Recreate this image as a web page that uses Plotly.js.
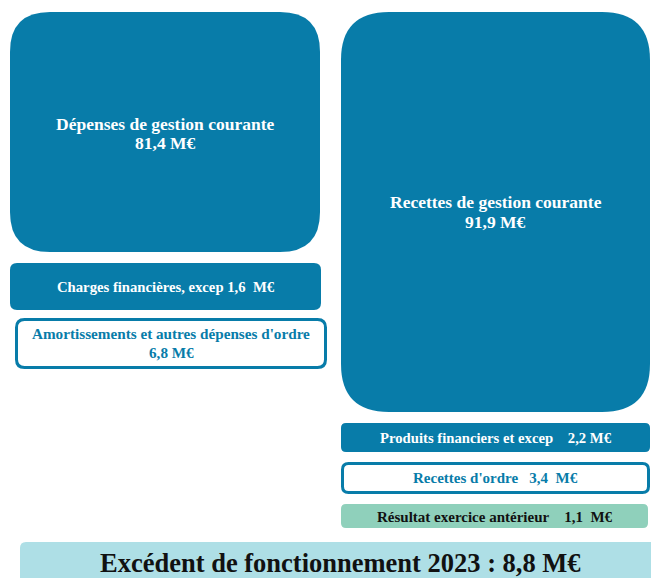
<!DOCTYPE html>
<html>
<head>
<meta charset="utf-8">
<script src="https://cdn.plot.ly/plotly-3.0.1.min.js"></script>
<style>html,body{margin:0;padding:0;background:#fff;}#chart{width:651px;height:578px;}</style>
</head>
<body>
<div id="chart"></div>
<script>
// ---- data ----
const depensesLabels = ["Dépenses de gestion courante", "Charges financières, excep", "Amortissements et autres dépenses d'ordre"];
const depensesValues = [81.4, 1.6, 6.8];
const recettesLabels = ["Recettes de gestion courante", "Produits financiers et excep", "Recettes d'ordre", "Résultat exercice antérieur"];
const recettesValues = [91.9, 2.2, 3.4, 1.1];
const excedentLabel = "Excédent de fonctionnement 2023";
const excedentValue = 8.8;

// ---- layout geometry (axis units = px of the canvas) ----
const BLUE = "#087ca9";
const fmt = v => v.toFixed(1).replace(".", ",");
const nb = n => "\u00a0".repeat(n);

const boxes = [
  {x0:10, y0:12, x1:320, y1:252, r:40, fill:BLUE, line:null, color:"#ffffff", size:17.5, cy:133.5, gap:19,
   lines: [depensesLabels[0], fmt(depensesValues[0]) + " M€"]},
  {x0:10, y0:263, x1:321, y1:310, r:7, fill:BLUE, line:null, color:"#ffffff", size:14.7, cy:287,
   lines: [depensesLabels[1] + " " + fmt(depensesValues[1]) + nb(2) + "M€"]},
  {x0:16.5, y0:319.5, x1:325.5, y1:367.5, r:8, fill:"#ffffff", line:BLUE, color:BLUE, size:15.2, cy:342.5, gap:19,
   lines: [depensesLabels[2], fmt(depensesValues[2]) + " M€"]},
  {x0:341, y0:12, x1:650, y1:412, r:48, fill:BLUE, line:null, color:"#ffffff", size:17.5, cy:212, gap:20,
   lines: [recettesLabels[0], fmt(recettesValues[0]) + " M€"]},
  {x0:341, y0:423, x1:650, y1:452, r:5, fill:BLUE, line:null, color:"#ffffff", size:14.7, cy:438,
   lines: [recettesLabels[1] + nb(4) + fmt(recettesValues[1]) + " M€"]},
  {x0:342.5, y0:463.5, x1:648.5, y1:492.5, r:6, fill:"#ffffff", line:BLUE, color:BLUE, size:15, cy:477.5,
   lines: [recettesLabels[2] + nb(3) + fmt(recettesValues[2]) + nb(2) + "M€"]},
  {x0:341, y0:504, x1:648, y1:528, r:5, fill:"#8fd0bb", line:null, color:"#111111", size:15, cy:516.5,
   lines: [recettesLabels[3] + nb(4) + fmt(recettesValues[3]) + nb(2) + "M€"]},
  {x0:20, y0:542, x1:670, y1:590, r:6, fill:"#aedfe6", line:null, color:"#111111", size:26.5, cy:563, cx:340,
   lines: [excedentLabel + " : " + fmt(excedentValue) + " M€"]},
];

function roundedPath(b) {
  const {x0, y0, x1, y1, r} = b;
  return `M ${x0+r},${y0} L ${x1-r},${y0} Q ${x1},${y0} ${x1},${y0+r} ` +
         `L ${x1},${y1-r} Q ${x1},${y1} ${x1-r},${y1} ` +
         `L ${x0+r},${y1} Q ${x0},${y1} ${x0},${y1-r} ` +
         `L ${x0},${y0+r} Q ${x0},${y0} ${x0+r},${y0} Z`;
}

const shapes = boxes.map(b => ({
  type: "path", xref: "x", yref: "y", path: roundedPath(b),
  fillcolor: b.fill, layer: "below",
  line: b.line ? {color: b.line, width: 3} : {width: 0}
}));

const annotations = [];
boxes.forEach(b => {
  const n = b.lines.length;
  const gap = b.gap || 0;
  b.lines.forEach((t, i) => {
    annotations.push({
      xref: "x", yref: "y",
      x: b.cx !== undefined ? b.cx : (b.x0 + b.x1) / 2,
      y: b.cy + (i - (n - 1) / 2) * gap,
      text: t, showarrow: false, align: "center",
      xanchor: "center", yanchor: "middle",
      font: {family: "Liberation Serif, Times New Roman, serif", size: b.size, color: b.color, weight: "bold"}
    });
  });
});

const trace = {x: [], y: [], type: "scatter", mode: "markers", hoverinfo: "skip", showlegend: false};

const layout = {
  width: 651, height: 578,
  margin: {l: 0, r: 0, t: 0, b: 0},
  paper_bgcolor: "#ffffff", plot_bgcolor: "#ffffff",
  xaxis: {range: [0, 651], visible: false, fixedrange: true},
  yaxis: {range: [578, 0], visible: false, fixedrange: true},
  shapes: shapes, annotations: annotations, showlegend: false
};

Plotly.newPlot("chart", [trace], layout, {displayModeBar: false, staticPlot: true});
</script>
</body>
</html>
